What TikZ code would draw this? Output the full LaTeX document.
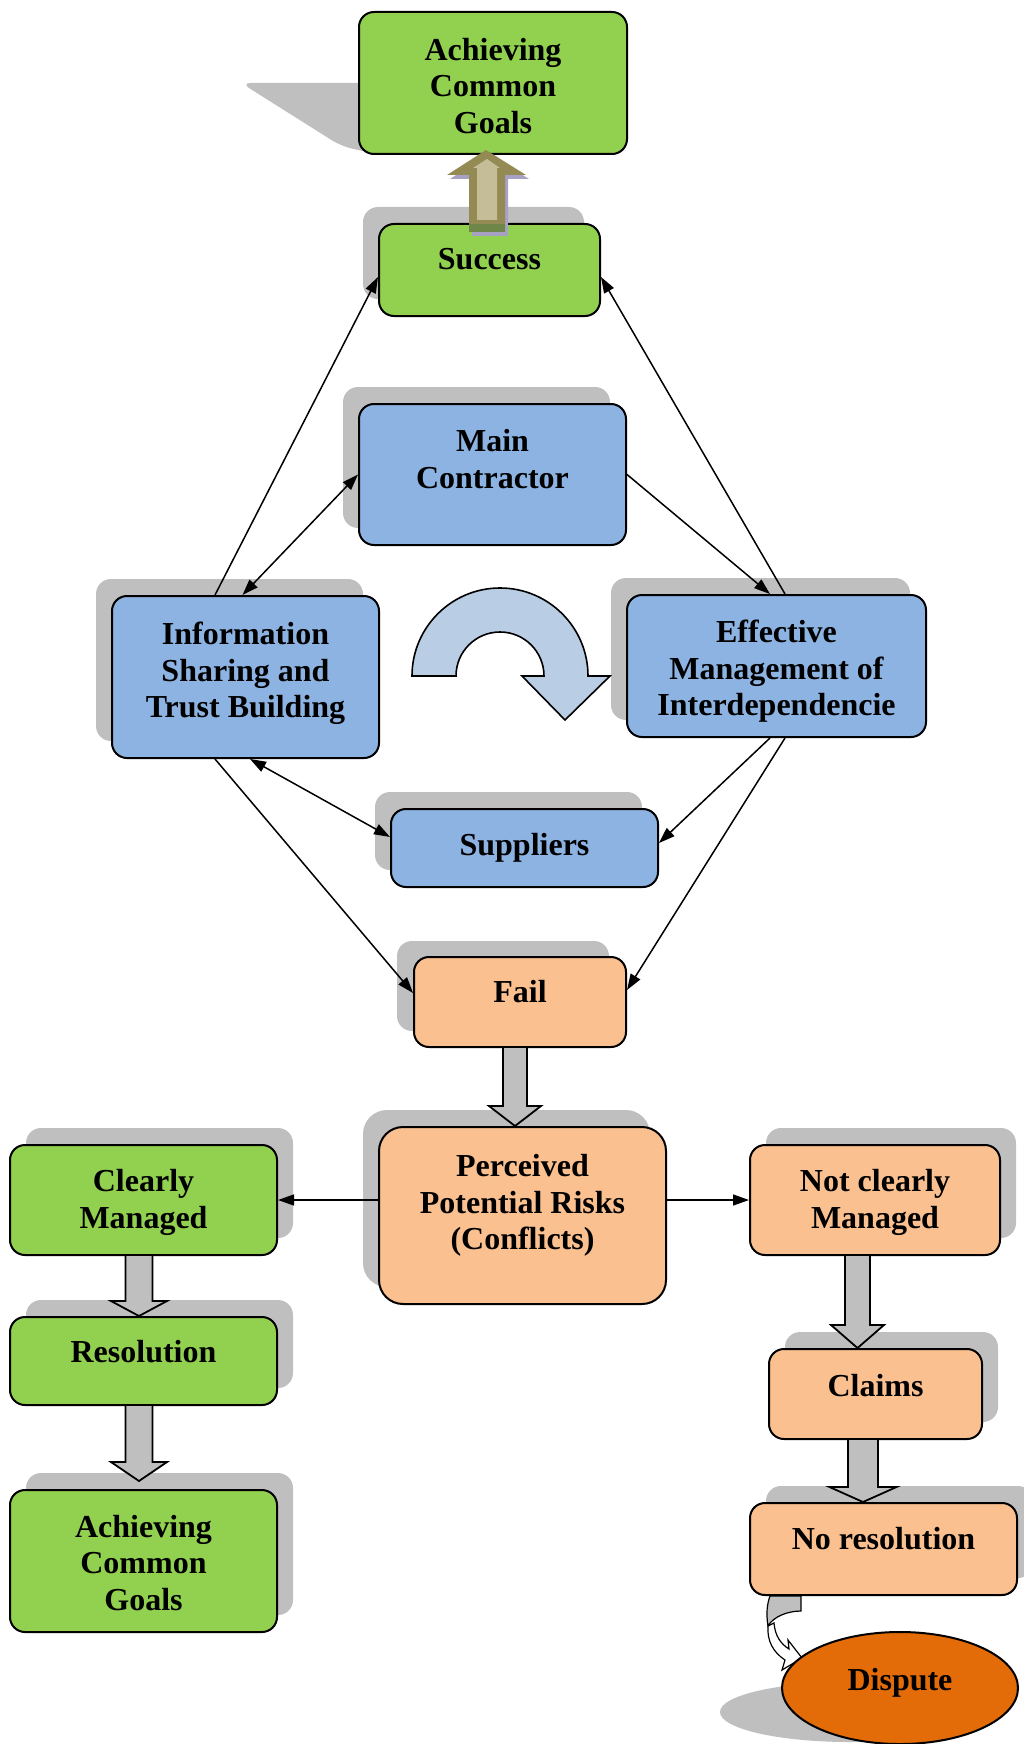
\documentclass[tikz,border=0pt]{standalone}
\usepackage{fontspec}
\setmainfont{Liberation Serif}
\usetikzlibrary{arrows.meta,shadows,calc,shapes.geometric}

\definecolor{boxgreen}{HTML}{92D050}
\definecolor{boxblue}{HTML}{8DB3E2}
\definecolor{boxpeach}{HTML}{FAC090}
\definecolor{shgray}{HTML}{BFBFBF}
\definecolor{disputeorange}{HTML}{E36C09}
\definecolor{turnblue}{HTML}{B9CDE5}
\definecolor{khakidark}{HTML}{948A54}
\definecolor{khakilight}{HTML}{C4BD97}
\definecolor{khakishade}{HTML}{A7A2C4}
\definecolor{olivedeep}{HTML}{6E8648}

% vertical block arrow: #1 start, #2 tip, #3 half shaft, #4 half head, #5 head length
\newcommand\vblock[5]{%
  \draw[blockarr] ($(#1)+(-#3,0)$) -- ($(#2)+(-#3,-#5)$) -- ($(#2)+(-#4,-#5)$)
    -- (#2) -- ($(#2)+(#4,-#5)$) -- ($(#2)+(#3,-#5)$) -- ($(#1)+(#3,0)$);}

\begin{document}
\begin{tikzpicture}[x=1pt,y=-1pt,
  box/.style={draw=black, line width=2pt, rounded corners=15pt, inner sep=0pt},
  shul/.style={general shadow={fill=shgray, shadow xshift=-16pt, shadow yshift=17pt}},
  shur/.style={general shadow={fill=shgray, shadow xshift=16pt, shadow yshift=17pt}},
  lbl/.style={font=\fontsize{32}{36.5}\selectfont\bfseries, align=center, inner sep=0pt},
  link/.style={line width=1.5pt, -{Triangle[length=16pt,width=11pt]}},
  twoway/.style={line width=1.5pt, {Triangle[length=16pt,width=11pt]}-{Triangle[length=16pt,width=11pt]}},
  blockarr/.style={draw=black, line width=1.8pt, fill=shgray, line join=miter},
]
\useasboundingbox (0,0) rectangle (1023,1744);

% ---- top goal with its slanted shadow
\fill[shgray, rounded corners=10pt] (380,83) -- (241,83) -- (341,146) -- (375,154) -- (380,154) -- cycle;
\node[box, fill=boxgreen, minimum width=268pt, minimum height=142pt] (goalA) at (493,83) {};
\node[lbl] (goalAt) at (493,86) {Achieving\\Common\\Goals};

\node[box, shul, fill=boxgreen, minimum width=221pt, minimum height=92pt] (succ) at (489.5,270) {};
\node[lbl] (succt) at (489.5,259) {Success};

% ---- up arrow from Success to the goal
\fill[khakishade] (472,236) -- (472,179) -- (450,179) -- (489,154) -- (529,179) -- (508,179) -- (508,236) -- cycle;
\fill[khakidark] (469,232) -- (469,175) -- (447,175) -- (486,150) -- (526,175) -- (505,175) -- (505,232) -- cycle;
\fill[olivedeep] (469,224) rectangle (505,232);
\fill[khakilight] (477,220) -- (477,168) -- (473,168) -- (487,159) -- (500,168) -- (497,168) -- (497,220) -- cycle;

% ---- the blue cycle
\node[box, shul, fill=boxblue, minimum width=267pt, minimum height=141pt] (mc) at (492.5,474.5) {};
\node[lbl] (mct) at (492.5,459) {Main\\Contractor};

\node[box, shul, fill=boxblue, minimum width=267pt, minimum height=162pt] (info) at (245.5,677) {};
\node[lbl] (infot) at (245.5,673.5) {Information\\Sharing and\\Trust Building};

\node[box, shul, fill=boxblue, minimum width=299pt, minimum height=142pt] (eff) at (776.5,666) {};
\node[lbl] (efft) at (776.5,671.5) {Effective\\Management of\\Interdependencie};

\node[box, shul, fill=boxblue, minimum width=267pt, minimum height=78pt] (supp) at (524.5,848) {};
\node[lbl] (suppt) at (524.5,847.5) {Suppliers};

% turning arrow between the blue boxes
\draw[line width=1.6pt, fill=turnblue, line join=miter]
  (412,676) arc[start angle=180, end angle=360, radius=88]
  -- (610,676) -- (565,720) -- (522,676) -- (544,676)
  arc[start angle=0, end angle=-180, radius=44] -- cycle;

% ---- failure branch
\node[box, general shadow={fill=shgray, shadow xshift=-17pt, shadow yshift=16pt},
      fill=boxpeach, minimum width=212pt, minimum height=90pt] (fail) at (520,1002) {};
\node[lbl] (failt) at (520,992) {Fail};

\node[box, shul, rounded corners=24pt, fill=boxpeach, minimum width=287pt, minimum height=177pt] (risk) at (522.5,1215.5) {};
\node[lbl] (riskt) at (522.5,1205.5) {Perceived\\Potential Risks\\(Conflicts)};

\node[box, shur, fill=boxgreen, minimum width=267pt, minimum height=110pt] (cm) at (143.5,1200) {};
\node[lbl] (cmt) at (143.5,1202.5) {Clearly\\Managed};

\node[box, shur, fill=boxgreen, minimum width=267pt, minimum height=88pt] (res) at (143.5,1361) {};
\node[lbl] (rest) at (143.5,1352) {Resolution};

\node[box, shur, fill=boxgreen, minimum width=267pt, minimum height=142pt] (goalB) at (143.5,1561) {};
\node[lbl] (goalBt) at (143.5,1563) {Achieving\\Common\\Goals};

\node[box, shur, fill=boxpeach, minimum width=250pt, minimum height=110pt] (ncm) at (875,1200) {};
\node[lbl] (ncmt) at (875,1202.5) {Not clearly\\Managed};

\node[box, shur, fill=boxpeach, minimum width=213pt, minimum height=90pt] (claims) at (875.5,1394) {};
\node[lbl] (claimst) at (875.5,1386) {Claims};

\node[box, shur, fill=boxpeach, minimum width=267pt, minimum height=92pt] (nores) at (883.5,1549) {};
\node[lbl] (norest) at (883.5,1539) {No resolution};

% ---- dispute with its cast shadow and the curled arrow into it
\fill[shgray] (850,1712) ellipse [x radius=130, y radius=30];
\begin{scope}[shift={(nores.south west)}]
  \draw[line width=1.2pt, fill=shgray] (21,0) -- (52,0) -- (52,15)
    .. controls (38,15) and (24,21) .. (19,30)
    .. controls (17,18) and (18,8) .. (21,0) -- cycle;
  \draw[line width=1.2pt, fill=white, line join=miter] (19,30)
    .. controls (18,45) and (24,56) .. (36,64) -- (33,74) -- (53,62) -- (39,44) -- (40,53)
    .. controls (32,48) and (26,40) .. (25,27) -- cycle;
\end{scope}
\node[draw=black, line width=2pt, ellipse, fill=disputeorange, inner sep=0pt,
      minimum width=236pt, minimum height=112pt] (disp) at (900,1688) {};
\node[lbl] (dispt) at (900,1682.5) {Dispute};

% ---- thin connectors
\draw[link] ($(info.north)+(-30.5,0)$) -- ($(succ.west)+(0,7)$);
\draw[link] ($(eff.north)+(8.5,0)$) -- ($(succ.east)+(0,7)$);
\draw[twoway] (mc.west) -- ($(info.north)+(-3,0)$);
\draw[link] (mc.east) -- ($(eff.north)+(-6.5,0)$);
\draw[twoway] ($(info.south)+(4.5,0)$) -- ($(supp.west)+(0,-11)$);
\draw[link] ($(eff.south)+(-6.5,0)$) -- ($(supp.east)+(0,-5)$);
\draw[link] ($(info.south)+(-30.5,0)$) -- ($(fail.west)+(0,-9)$);
\draw[link] ($(eff.south)+(8.5,0)$) -- ($(fail.east)+(0,-12)$);
\draw[link] (risk.west |- cm.east) -- (cm.east);
\draw[link] (risk.east |- ncm.west) -- (ncm.west);

% ---- block arrows
\coordinate (fa) at ($(fail.south)+(-5,0)$);
\coordinate (fb) at (fa |- risk.north);
\vblock{fa}{fb}{12}{26}{20}
\coordinate (ca) at ($(cm.south)+(-4.5,0)$);
\coordinate (cb) at (ca |- res.north);
\vblock{ca}{cb}{13.5}{28}{15}
\coordinate (ra) at ($(res.south)+(-4.5,0)$);
\coordinate (rb) at ($(ra |- goalB.north)+(0,-8)$);
\vblock{ra}{rb}{13.5}{28}{19}
\coordinate (na) at ($(ncm.south)+(-17.5,0)$);
\coordinate (nb) at (na |- claims.north);
\vblock{na}{nb}{12.5}{26.5}{23}
\coordinate (la) at ($(claims.south)+(-12.5,0)$);
\coordinate (lb) at (la |- nores.north);
\vblock{la}{lb}{15}{33.5}{15}
\end{tikzpicture}
\end{document}
